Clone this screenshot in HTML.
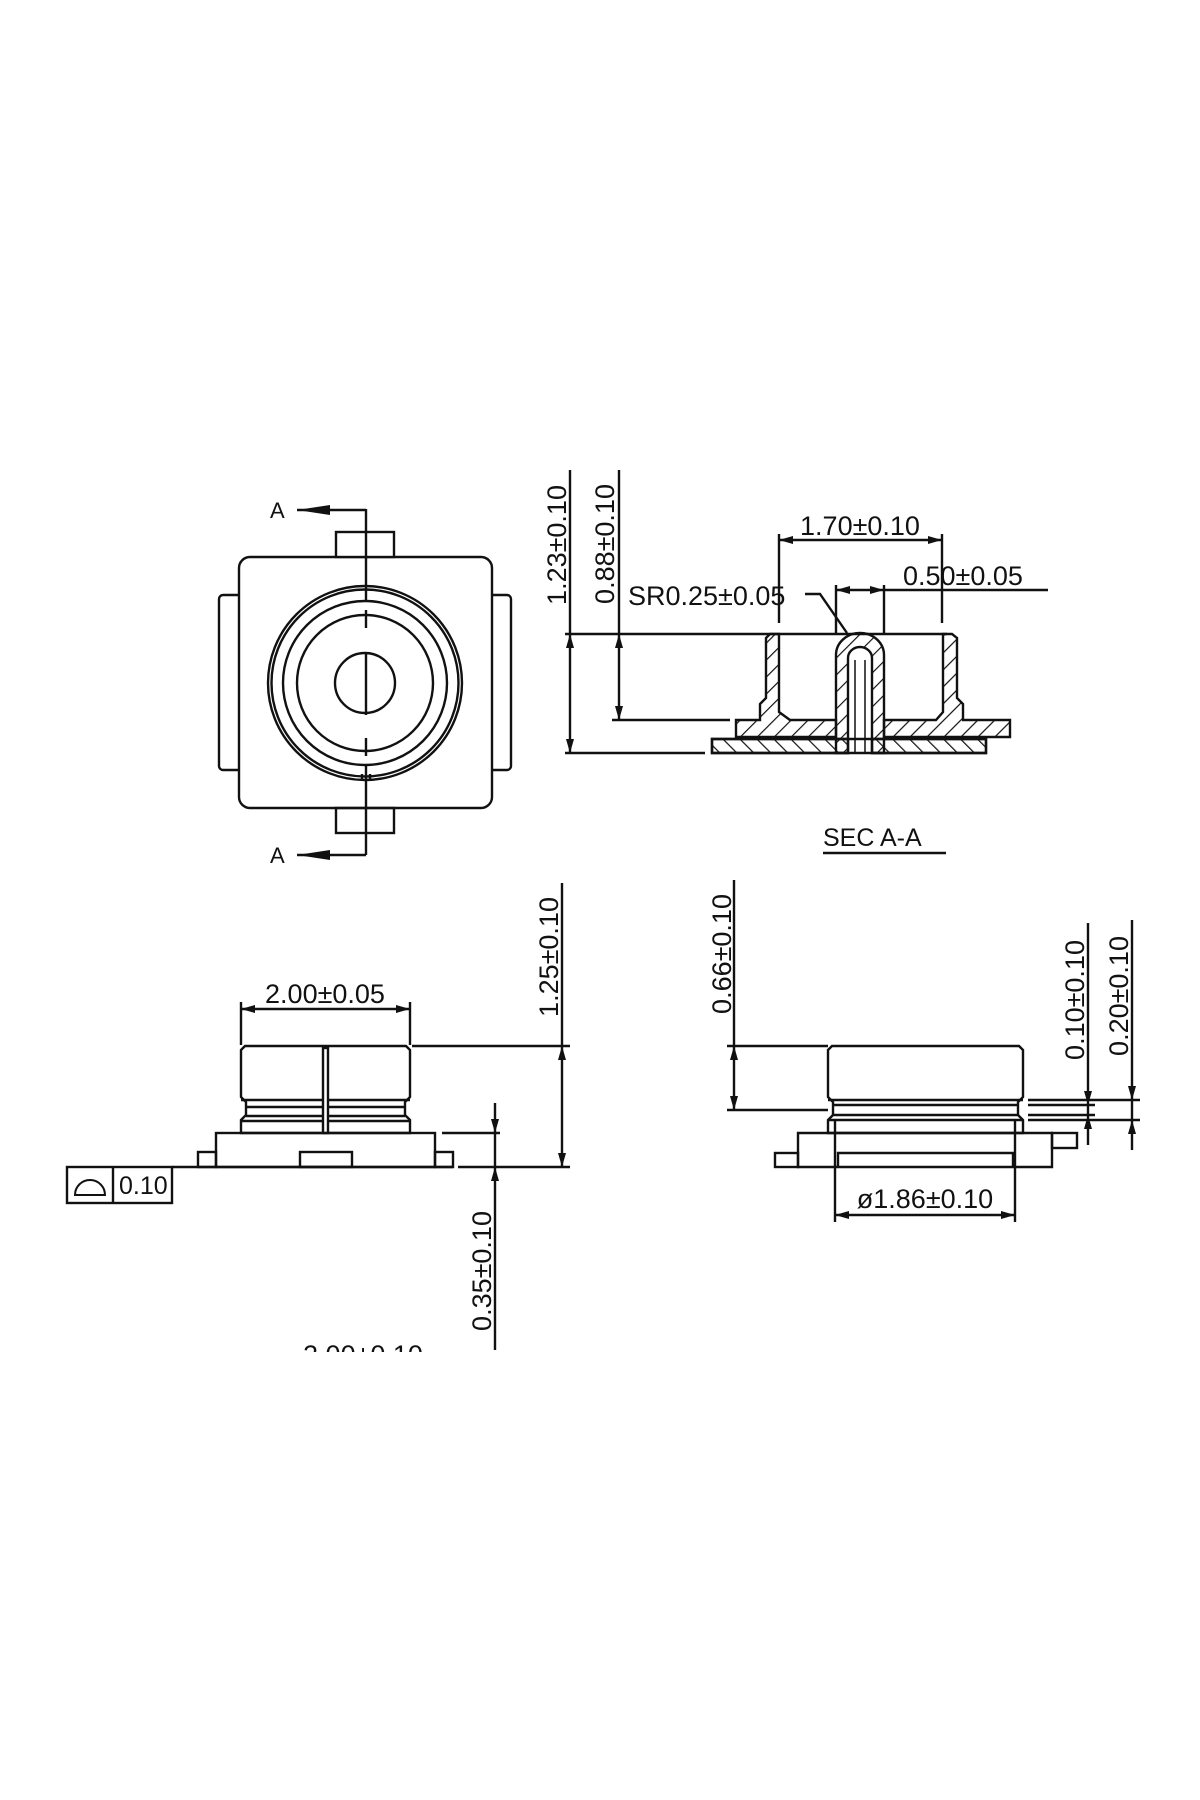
<!DOCTYPE html>
<html><head><meta charset="utf-8"><style>html,body{margin:0;padding:0;background:#fff}svg{display:block}</style></head>
<body>
<svg width="1200" height="1800" viewBox="0 0 1200 1800" xmlns="http://www.w3.org/2000/svg" font-family="Liberation Sans, sans-serif" fill="none" stroke="#111" stroke-width="2.4">
<defs>
<pattern id="h1" width="12" height="12" patternUnits="userSpaceOnUse" patternTransform="rotate(45)"><line x1="0" y1="0" x2="0" y2="12" stroke="#111" stroke-width="2.4"/></pattern>
<pattern id="h2" width="12" height="12" patternUnits="userSpaceOnUse" patternTransform="rotate(-45)"><line x1="0" y1="0" x2="0" y2="12" stroke="#111" stroke-width="2.4"/></pattern>
<clipPath id="cut"><rect x="0" y="0" width="1200" height="1352"/></clipPath>
</defs>
<rect x="0" y="0" width="1200" height="1800" fill="#fff" stroke="none"/>

<!-- TOP VIEW -->
<rect x="239" y="557" width="253" height="251" rx="11"/>
<rect x="336" y="532" width="58" height="25" fill="#fff"/>
<rect x="336" y="808" width="58" height="25"/>
<path d="M239 595 H223 a4 4 0 0 0 -4 4 V766 a4 4 0 0 0 4 4 H239"/>
<path d="M492 595 H507 a4 4 0 0 1 4 4 V766 a4 4 0 0 1 -4 4 H492"/>
<circle cx="365" cy="683" r="97" fill="#fff"/>
<circle cx="365" cy="683" r="93.5"/>
<circle cx="365" cy="683" r="82"/>
<circle cx="365" cy="683" r="68"/>
<circle cx="365" cy="683" r="30"/>
<path d="M366 509 V600 M366 610 V628 M366 652 V715 M366 738 V756 M366 765 V855"/>
<path d="M362 774 V780 M370 774 V780"/>
<path d="M366 510 H297 M366 855 H297"/>
<path d="M297 510 L330 505 V515 Z M297 855 L330 850 V860 Z" fill="#111" stroke="none"/>
<g fill="#111" stroke="none" font-size="22"><text x="270" y="518">A</text><text x="270" y="863">A</text></g>

<!-- SECTION A-A -->
<path d="M565 634 H947 M565 753 H705 M612 720 H730 M570 470 V753 M619 470 V720"/>
<path d="M570 634 l-4 14 h8 z M570 753 l-4 -14 h8 z M619 634 l-4 14 h8 z M619 720 l-4 -14 h8 z" fill="#111" stroke="none"/>
<path d="M712 739 H848 L848 753 H712 Z" fill="url(#h2)"/>
<path d="M872 739 H986 V753 H872 Z" fill="url(#h2)"/>
<path d="M770 634 H779 V712 L790 720 H836 V737 H736 V720 H760 V704 L766 698 V638 Z" fill="url(#h1)"/>
<path d="M884 720 H936 L943 712 V634 H952 L957 638 V698 L963 704 V720 H1010 V737 H884 Z" fill="url(#h1)"/>
<path d="M836 753 V655 A24 22 0 0 1 884 655 V753 H872 V658 A12 11 0 0 0 848 658 V753 Z" fill="url(#h1)"/>
<path d="M712 739 H986 V753 H712 Z"/>
<path d="M855 660 V753 M865 660 V753" stroke-width="1.5"/>
<path d="M779 534 V623 M942 534 V623 M779 540 H942 M836 585 V634 M884 585 V634 M836 590 H884 H1048"/>
<path d="M779 540 l14 -4 v8 z M942 540 l-14 -4 v8 z M836 590 l14 -4 v8 z M884 590 l-14 -4 v8 z" fill="#111" stroke="none"/>
<path d="M805 594 H820 L847 633"/>
<g fill="#111" stroke="none" font-size="27">
<text x="860" y="535" text-anchor="middle">1.70±0.10</text>
<text x="903" y="585">0.50±0.05</text>
<text x="628" y="605">SR0.25±0.05</text>
<text x="823" y="846" font-size="25">SEC A-A</text>
<text transform="translate(566,545) rotate(-90)" text-anchor="middle">1.23±0.10</text>
<text transform="translate(614,544) rotate(-90)" text-anchor="middle">0.88±0.10</text>
</g>
<path d="M823 853 H946"/>

<!-- FRONT VIEW -->
<path d="M245 1046 H406 L410 1050 V1097 L405 1102 V1115 L410 1120 V1133 H241 V1120 L246 1115 V1102 L241 1097 V1050 Z"/>
<path d="M241 1100 H410 M246 1107 H405 M246 1116 H405 M241 1121 H410"/>
<rect x="323" y="1048" width="5" height="85" fill="#fff"/>
<rect x="216" y="1133" width="219" height="34"/>
<rect x="198" y="1152" width="18" height="15"/>
<rect x="435" y="1152" width="18" height="15"/>
<rect x="300" y="1152" width="52" height="15"/>
<path d="M172 1167 H453"/>
<rect x="67" y="1167" width="105" height="36"/>
<path d="M113 1167 V1203"/>
<path d="M75 1195 H105 A15 15 0 0 0 75 1195 Z" stroke-width="2"/>
<path d="M241 1002 V1045 M410 1002 V1045 M241 1009 H410 M412 1046 H570 M458 1167 H570 M562 883 V1167 M442 1133 H500 M495 1103 V1350"/>
<path d="M241 1009 l14 -4 v8 z M410 1009 l-14 -4 v8 z M562 1046 l-4 14 h8 z M562 1167 l-4 -14 h8 z M495 1133 l-4 -14 h8 z M495 1167 l-4 14 h8 z" fill="#111" stroke="none"/>
<g fill="#111" stroke="none" font-size="27">
<text x="325" y="1003" text-anchor="middle">2.00±0.05</text>
<text x="119" y="1194" font-size="25">0.10</text>
<text transform="translate(558,957) rotate(-90)" text-anchor="middle">1.25±0.10</text>
<text transform="translate(491,1271) rotate(-90)" text-anchor="middle">0.35±0.10</text>
<text x="363" y="1364" text-anchor="middle" clip-path="url(#cut)">2.00±0.10</text>
</g>

<!-- SIDE VIEW -->
<path d="M832 1046 H1019 L1023 1050 V1097 L1018 1102 V1115 L1023 1120 V1133 H828 V1120 L833 1115 V1102 L828 1097 V1050 Z"/>
<path d="M828 1100 H1023 M833 1105 H1018 M833 1115 H1018 M828 1120 H1023"/>
<path d="M835 1120 V1167 M1015 1120 V1167"/>
<path d="M798 1167 V1133 H1052 V1167 Z"/>
<rect x="775" y="1153" width="23" height="14"/>
<rect x="1052" y="1133" width="25" height="15"/>
<path d="M838 1167 V1153 H1013 V1167"/>
<path d="M727 1046 H828 M727 1110 H828 M734 880 V1110"/>
<path d="M734 1046 l-4 14 h8 z M734 1110 l-4 -14 h8 z" fill="#111" stroke="none"/>
<path d="M835 1167 V1222 M1015 1167 V1222 M835 1215 H1015"/>
<path d="M835 1215 l14 -4 v8 z M1015 1215 l-14 -4 v8 z" fill="#111" stroke="none"/>
<path d="M1028 1100 H1140 M1028 1105 H1095 M1028 1115 H1095 M1028 1120 H1140 M1088 923 V1145 M1132 920 V1150"/>
<path d="M1088 1105 l-4 -14 h8 z M1088 1115 l-4 14 h8 z M1132 1100 l-4 -14 h8 z M1132 1120 l-4 14 h8 z" fill="#111" stroke="none"/>
<g fill="#111" stroke="none" font-size="27">
<text x="925" y="1208" text-anchor="middle">ø1.86±0.10</text>
<text transform="translate(731,954) rotate(-90)" text-anchor="middle">0.66±0.10</text>
<text transform="translate(1084,1000) rotate(-90)" text-anchor="middle">0.10±0.10</text>
<text transform="translate(1128,996) rotate(-90)" text-anchor="middle">0.20±0.10</text>
</g>
</svg>
</body></html>
